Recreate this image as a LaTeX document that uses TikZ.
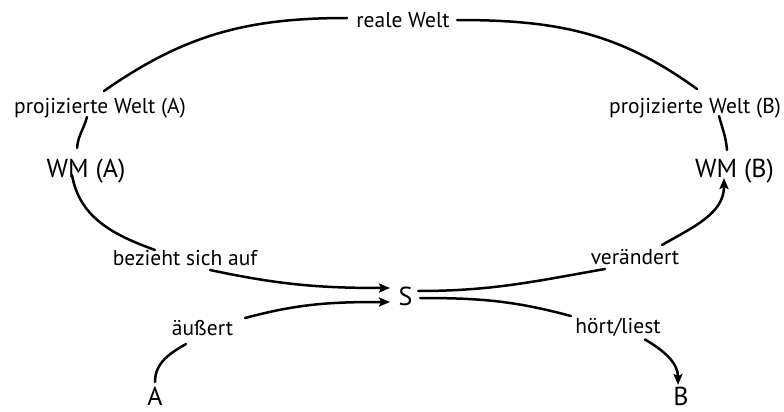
\documentclass[tikz,border=0pt]{standalone}
\usepackage{fontspec}
\setmainfont{PT Sans}
\usetikzlibrary{arrows.meta}
\begin{document}
\begin{tikzpicture}[x=1pt,y=-1pt,
  lbl/.style={anchor=base,inner sep=0pt,font=\fontsize{21.5}{24}\selectfont},
  big/.style={anchor=base,inner sep=0pt,font=\fontsize{26}{30}\selectfont},
  link/.style={line width=2.5pt,line cap=round},
  arr/.style={link,-{Stealth[length=11pt,width=9pt,inset=2pt]}}]
\useasboundingbox (0,0) rectangle (784,412);
% labels
\node[lbl] (reale) at (403,28) {reale Welt};
\node[lbl] (pA) at (100,113) {projizierte Welt (A)};
\node[lbl] (pB) at (695,113) {projizierte Welt (B)};
\node[big] (wmA) at (86,177) {WM (A)};
\node[big] (wmB) at (734.5,177) {WM (B)};
\node[lbl] (bz) at (185,265) {bezieht sich auf};
\node[lbl] (vr) at (635,264) {verändert};
\node[big] (S) at (405.5,305) {S};
\node[lbl] (au) at (202.5,335) {äußert};
\node[lbl] (ht) at (618,333) {hört/liest};
\node[big] (A) at (155,405) {A};
\node[big] (B) at (681,405) {B};
% outer loop
\draw[link] ([shift={(4,-22)}]pA.base) to[out=35,in=180] ([shift={(-56,-10)}]reale.base);
\draw[link] ([shift={(54,-8)}]reale.base) to[out=0,in=144] ([shift={(2,-24)}]pB.base);
\draw[link] ([shift={(-13,4)}]pA.base) to[out=-105,in=85] ([shift={(-9,-29)}]wmA.base);
\draw[link] ([shift={(24,3)}]pB.base) to[out=-75,in=95] ([shift={(-7.5,-27)}]wmB.base);
\draw[link] ([shift={(-14,-2)}]wmA.base) to[out=-80,in=160] ([shift={(-30,-15)}]bz.base);
\draw[arr] ([shift={(25,5)}]bz.base) to[out=-12,in=180] ([shift={(-15.5,-17)}]S.base);
\draw[link] ([shift={(12.5,-14)}]S.base) to[out=0,in=190] ([shift={(-30,5)}]vr.base);
\draw[arr] ([shift={(27,-19)}]vr.base) to[out=30,in=-90] ([shift={(-10.5,1)}]wmB.base);
% speaker and hearer
\draw[link] ([shift={(-16.5,9)}]au.base) to[out=210,in=90] ([shift={(0,-23)}]A.base);
\draw[arr] ([shift={(42.5,-17)}]au.base) to[out=15,in=180] ([shift={(-15.5,-3)}]S.base);
\draw[link] ([shift={(14.5,-7)}]S.base) to[out=0,in=165] ([shift={(-47,-17)}]ht.base);
\draw[arr] ([shift={(27,6.5)}]ht.base) to[out=-30,in=90] ([shift={(-3,-20)}]B.base);
\end{tikzpicture}
\end{document}
